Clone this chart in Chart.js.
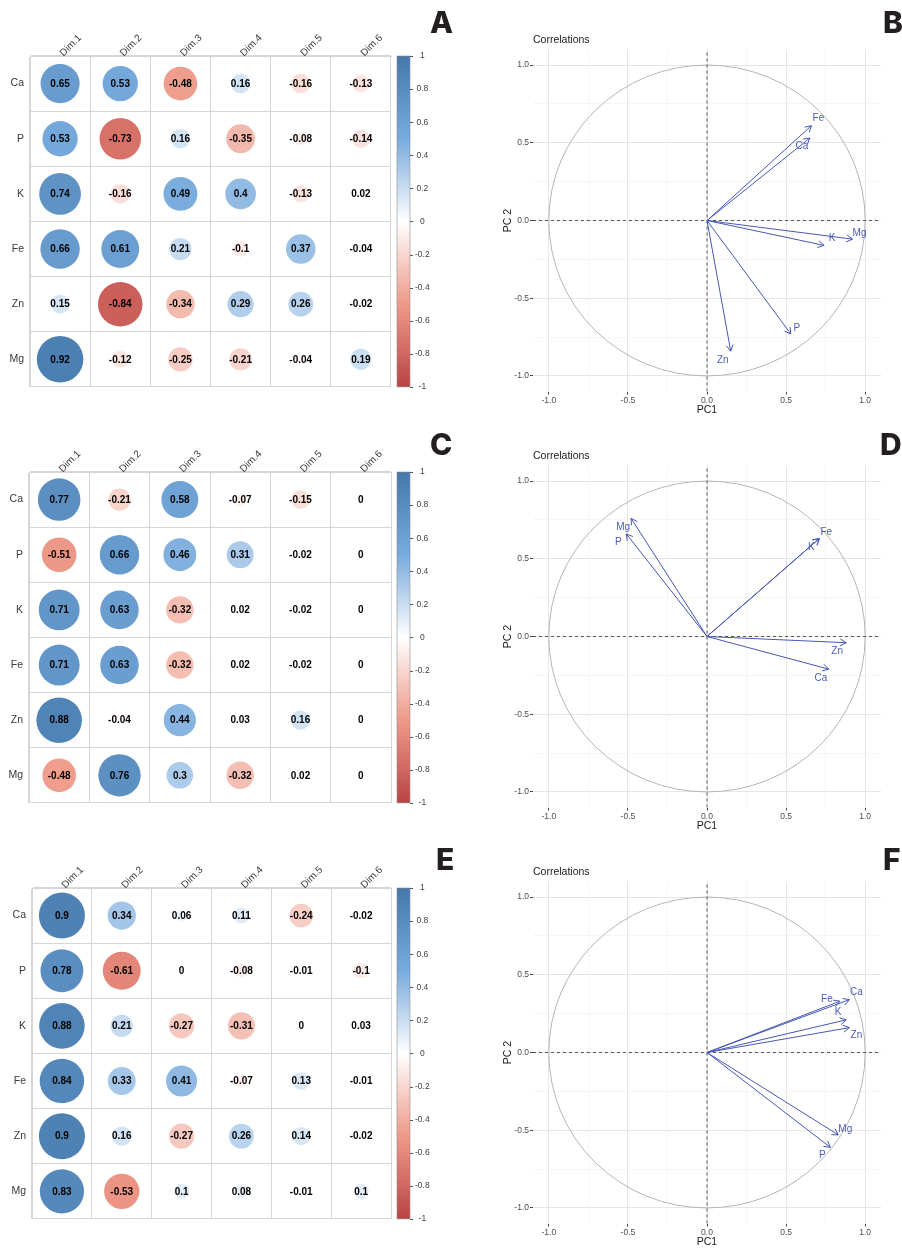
<!DOCTYPE html>
<html>
<head>
<meta charset="utf-8">
<title>Mineral correlations with PCA dimensions</title>
<script src="https://cdn.jsdelivr.net/npm/chart.js"></script>
<style>
  body { margin: 0; background: #fff; }
  #page { position: relative; width: 902px; height: 1248px; overflow: hidden; background: #fff; }
  canvas { position: absolute; }
</style>
</head>
<body>
<div id="page">
  <canvas id="corrA" width="470" height="416" style="left:0;top:0"></canvas>
  <canvas id="pcaB" width="432" height="416" style="left:470px;top:0"></canvas>
  <canvas id="corrC" width="470" height="416" style="left:0;top:416px"></canvas>
  <canvas id="pcaD" width="432" height="416" style="left:470px;top:416px"></canvas>
  <canvas id="corrE" width="470" height="416" style="left:0;top:832px"></canvas>
  <canvas id="pcaF" width="432" height="416" style="left:470px;top:832px"></canvas>
</div>

<script>
// ---- data ----
const vars = ['Ca', 'P', 'K', 'Fe', 'Zn', 'Mg'];
const dims = ['Dim.1', 'Dim.2', 'Dim.3', 'Dim.4', 'Dim.5', 'Dim.6'];

// correlation of each variable (rows) with each dimension (columns)
const corrA = [
  [0.65, 0.53, -0.48, 0.16, -0.16, -0.13],
  [0.53, -0.73, 0.16, -0.35, -0.08, -0.14],
  [0.74, -0.16, 0.49, 0.4, -0.13, 0.02],
  [0.66, 0.61, 0.21, -0.1, 0.37, -0.04],
  [0.15, -0.84, -0.34, 0.29, 0.26, -0.02],
  [0.92, -0.12, -0.25, -0.21, -0.04, 0.19]
];
const corrC = [
  [0.77, -0.21, 0.58, -0.07, -0.15, 0],
  [-0.51, 0.66, 0.46, 0.31, -0.02, 0],
  [0.71, 0.63, -0.32, 0.02, -0.02, 0],
  [0.71, 0.63, -0.32, 0.02, -0.02, 0],
  [0.88, -0.04, 0.44, 0.03, 0.16, 0],
  [-0.48, 0.76, 0.3, -0.32, 0.02, 0]
];
const corrE = [
  [0.9, 0.34, 0.06, 0.11, -0.24, -0.02],
  [0.78, -0.61, 0, -0.08, -0.01, -0.1],
  [0.88, 0.21, -0.27, -0.31, 0, 0.03],
  [0.84, 0.33, 0.41, -0.07, 0.13, -0.01],
  [0.9, 0.16, -0.27, 0.26, 0.14, -0.02],
  [0.83, -0.53, 0.1, 0.08, -0.01, 0.1]
];

const colorbarRange = [-1, 1];
const colorbarStep = 0.2;
const pcLimits = [-1.1, 1.1];
const pcStep = 0.25;

// label nudges (px) for the arrow labels in the circle plots
const nudgeB = { Ca: [-8, 8], P: [6, -6], K: [8, -7], Fe: [7, -7], Zn: [-8, 9], Mg: [7, -6] };
const nudgeD = { Ca: [-8, 9], P: [-8, 8], K: [-8, 9], Fe: [7, -6], Zn: [-9, 9], Mg: [-8, 9] };
const nudgeF = { Ca: [7, -7], P: [-8, 8], K: [-8, -8], Fe: [-13, -2], Zn: [7, 8], Mg: [7, -6] };

// ---- styling ----
const FONT = '"Liberation Sans", Arial, sans-serif';
const paletteAt = [-1, -0.5, 0, 0.5, 1];
const paletteHex = ['#BB4444', '#EE9988', '#FFFFFF', '#77AADD', '#4477AA'];
const arrowColor = '#4657b6';
const arrowText = '#4a5cbf';

function hexRgb(h) {
  return [parseInt(h.substr(1, 2), 16), parseInt(h.substr(3, 2), 16), parseInt(h.substr(5, 2), 16)];
}
function corrColor(v) {
  for (let i = 0; i < paletteAt.length - 1; i++) {
    if (v <= paletteAt[i + 1]) {
      const t = (v - paletteAt[i]) / (paletteAt[i + 1] - paletteAt[i]);
      const a = hexRgb(paletteHex[i]), b = hexRgb(paletteHex[i + 1]);
      const c = a.map((x, k) => Math.round(x + (b[k] - x) * t));
      return 'rgb(' + c.join(',') + ')';
    }
  }
  return paletteHex[paletteHex.length - 1];
}

function drawLetter(ctx, letter, x, y) {
  ctx.save();
  ctx.font = '800 30px Inter, "Liberation Sans", sans-serif';
  ctx.fillStyle = '#231f20';
  ctx.textAlign = 'left';
  ctx.textBaseline = 'alphabetic';
  ctx.fillText(letter, x, y);
  ctx.restore();
}

// ---- corrplot panels ----
function corrExtras(matrix, letter, lx, ly) {
  return {
    id: 'corrExtras',
    afterDatasetsDraw(chart) {
      const { ctx, scales: { x, y } } = chart;
      ctx.save();
      ctx.font = 'bold 10px ' + FONT;
      ctx.fillStyle = '#000';
      ctx.textAlign = 'center';
      ctx.textBaseline = 'middle';
      matrix.forEach((row, i) => row.forEach((v, j) => {
        ctx.fillText(String(v), x.getPixelForValue(j), y.getPixelForValue(i) + 0.5);
      }));
      ctx.restore();
    },
    afterDraw(chart) {
      const { ctx, chartArea, scales: { cb } } = chart;
      const x0 = chartArea.right + 6, w = 13;
      const top = cb.getPixelForValue(colorbarRange[1]);
      const bot = cb.getPixelForValue(colorbarRange[0]);
      const g = ctx.createLinearGradient(0, bot, 0, top);
      paletteAt.forEach((v, i) => g.addColorStop((v + 1) / 2, paletteHex[i]));
      ctx.save();
      ctx.fillStyle = g;
      ctx.fillRect(x0, top, w, bot - top);
      ctx.strokeStyle = '#8c8c8c';
      ctx.lineWidth = 0.6;
      ctx.strokeRect(x0, top, w, bot - top);
      ctx.strokeStyle = '#555';
      ctx.lineWidth = 1;
      cb.ticks.forEach(t => {
        const py = Math.round(cb.getPixelForValue(t.value)) + 0.5;
        ctx.beginPath();
        ctx.moveTo(x0 + w, py);
        ctx.lineTo(x0 + w + 3, py);
        ctx.stroke();
      });
      ctx.restore();
      drawLetter(ctx, letter, lx, ly);
    }
  };
}

function corrChart(id, matrix, leftW, letter, lx, ly) {
  const points = [];
  matrix.forEach((row, i) => row.forEach((v, j) => points.push({ x: dims[j], y: vars[i], v: v })));
  const cellR = (chart, v) => {
    const xs = chart.scales.x, ys = chart.scales.y;
    const cw = Math.abs(xs.getPixelForValue(1) - xs.getPixelForValue(0));
    const ch = Math.abs(ys.getPixelForValue(1) - ys.getPixelForValue(0));
    return 0.44 * Math.min(cw, ch) * Math.sqrt(Math.abs(v));
  };
  return new Chart(document.getElementById(id), {
    type: 'scatter',
    data: {
      datasets: [{
        data: points,
        pointRadius: c => (c.raw ? cellR(c.chart, c.raw.v) : 0),
        pointHoverRadius: c => (c.raw ? cellR(c.chart, c.raw.v) : 0),
        pointBackgroundColor: c => (c.raw ? corrColor(c.raw.v) : '#fff'),
        pointBorderWidth: 0,
        pointBorderColor: 'rgba(0,0,0,0)'
      }]
    },
    options: {
      responsive: false,
      animation: false,
      events: [],
      layout: { padding: { top: 0, bottom: 3, left: 0, right: 0 } },
      plugins: { legend: { display: false }, tooltip: { enabled: false } },
      scales: {
        x: {
          type: 'category', labels: dims, position: 'top', offset: true,
          grid: { offset: true, color: '#d6d6d6', drawTicks: false },
          border: { color: '#d6d6d6' },
          ticks: { minRotation: 45, maxRotation: 45, autoSkip: false, padding: -3, labelOffset: 10,
                   font: { family: FONT, size: 10 }, color: '#3a3a3a' },
          afterFit: s => { s.height = 56; }
        },
        y: {
          type: 'category', labels: vars, offset: true,
          grid: { offset: true, color: '#d6d6d6', drawTicks: false },
          border: { color: '#d6d6d6' },
          ticks: { padding: 6, autoSkip: false, font: { family: FONT, size: 10.5 }, color: '#3a3a3a' },
          afterFit: s => { s.width = leftW; }
        },
        cb: {
          type: 'linear', position: 'right', min: colorbarRange[0], max: colorbarRange[1],
          grid: { display: false, drawTicks: false },
          border: { display: false },
          ticks: { stepSize: colorbarStep, crossAlign: 'center', padding: 24, autoSkip: false,
                   font: { family: FONT, size: 8.5 }, color: '#404040',
                   callback: v => String(Math.round(v * 10) / 10) },
          afterFit: s => { s.width = 79; }
        }
      }
    },
    plugins: [corrExtras(matrix, letter, lx, ly)]
  });
}

// ---- correlation circle panels ----
const isMajor = v => Math.abs(v * 2 - Math.round(v * 2)) < 1e-6;
const keepGrid = s => {
  s.ticks = s.ticks.filter(t => Math.abs(t.value) <= 1.0001 &&
    Math.abs(t.value / pcStep - Math.round(t.value / pcStep)) < 1e-6);
};
function pcAxis(extra) {
  return Object.assign({
    type: 'linear', min: pcLimits[0], max: pcLimits[1],
    afterBuildTicks: keepGrid,
    ticks: { stepSize: pcStep, includeBounds: false, autoSkip: false, padding: 1,
             font: { family: FONT, size: 8.5 }, color: '#4d4d4d',
             callback: v => (isMajor(v) ? v.toFixed(1) : '') },
    grid: {
      color: c => (c.tick && isMajor(c.tick.value) ? '#e6e6e6' : '#f1f1f1'),
      lineWidth: c => (c.tick && isMajor(c.tick.value) ? 1 : 0.7),
      tickLength: 3,
      tickColor: c => (c.tick && isMajor(c.tick.value) ? '#444' : 'rgba(0,0,0,0)'),
      tickWidth: 1
    },
    border: { display: false }
  }, extra);
}

function pcaExtras(matrix, nudges, letter, lx, ly) {
  return {
    id: 'pcaExtras',
    beforeDatasetsDraw(chart) {
      const { ctx, scales: { x, y } } = chart;
      const cx = x.getPixelForValue(0), cy = y.getPixelForValue(0);
      const rx = x.getPixelForValue(1) - cx, ry = cy - y.getPixelForValue(1);
      ctx.save();
      ctx.strokeStyle = '#b5b5b5';
      ctx.lineWidth = 1;
      ctx.beginPath();
      ctx.ellipse(cx, cy, rx, ry, 0, 0, Math.PI * 2);
      ctx.stroke();
      ctx.restore();
    },
    afterDatasetsDraw(chart) {
      const { ctx, scales: { x, y } } = chart;
      const ox = x.getPixelForValue(0), oy = y.getPixelForValue(0);
      ctx.save();
      ctx.strokeStyle = arrowColor;
      ctx.lineWidth = 1;
      vars.forEach((name, i) => {
        const px = x.getPixelForValue(matrix[i][0]), py = y.getPixelForValue(matrix[i][1]);
        const a = Math.atan2(py - oy, px - ox);
        const len = 7, spread = Math.PI / 6;
        ctx.beginPath();
        ctx.moveTo(px - len * Math.cos(a - spread), py - len * Math.sin(a - spread));
        ctx.lineTo(px, py);
        ctx.lineTo(px - len * Math.cos(a + spread), py - len * Math.sin(a + spread));
        ctx.stroke();
      });
      ctx.font = '10px ' + FONT;
      ctx.fillStyle = arrowText;
      ctx.textAlign = 'center';
      ctx.textBaseline = 'middle';
      vars.forEach((name, i) => {
        const px = x.getPixelForValue(matrix[i][0]), py = y.getPixelForValue(matrix[i][1]);
        const n = nudges[name];
        ctx.fillText(name, px + n[0], py + n[1]);
      });
      ctx.restore();
    },
    afterDraw(chart) {
      const { ctx, chartArea } = chart;
      ctx.save();
      ctx.font = '10.5px ' + FONT;
      ctx.fillStyle = '#1a1a1a';
      ctx.textAlign = 'left';
      ctx.textBaseline = 'middle';
      ctx.fillText('Correlations', chartArea.left, 40);
      ctx.restore();
      drawLetter(ctx, letter, lx, ly);
    }
  };
}

function pcaChart(id, matrix, nudges, letter, lx, ly) {
  const refLine = pts => ({
    data: pts, showLine: true, pointRadius: 0, borderColor: '#555', borderWidth: 1,
    borderDash: [3, 3], order: 3
  });
  const datasets = [
    refLine([{ x: pcLimits[0], y: 0 }, { x: pcLimits[1], y: 0 }]),
    refLine([{ x: 0, y: pcLimits[0] }, { x: 0, y: pcLimits[1] }])
  ];
  vars.forEach((name, i) => {
    datasets.push({
      label: name,
      data: [{ x: 0, y: 0 }, { x: matrix[i][0], y: matrix[i][1] }],
      showLine: true, pointRadius: 0, borderColor: arrowColor, borderWidth: 1, order: 1
    });
  });
  return new Chart(document.getElementById(id), {
    type: 'scatter',
    data: { datasets: datasets },
    options: {
      responsive: false,
      animation: false,
      events: [],
      layout: { padding: { top: 49.5, right: 21, bottom: 0, left: 0 } },
      plugins: { legend: { display: false }, tooltip: { enabled: false } },
      scales: {
        x: pcAxis({
          title: { display: true, text: 'PC1', font: { family: FONT, size: 10.5 }, color: '#1a1a1a',
                   padding: { top: 0, bottom: 0 } },
          afterFit: s => { s.height = 24.5; }
        }),
        y: pcAxis({
          title: { display: true, text: 'PC 2', font: { family: FONT, size: 10.5 }, color: '#1a1a1a',
                   padding: { top: 32, bottom: 0 } },
          afterFit: s => { s.width = 63; }
        })
      }
    },
    plugins: [pcaExtras(matrix, nudges, letter, lx, ly)]
  });
}

corrChart('corrA', corrA, 30, 'A', 430, 33);
corrChart('corrC', corrC, 29, 'C', 430, 39);
corrChart('corrE', corrE, 32, 'E', 436, 38);
pcaChart('pcaB', corrA, nudgeB, 'B', 413, 33);
pcaChart('pcaD', corrC, nudgeD, 'D', 410, 39);
pcaChart('pcaF', corrE, nudgeF, 'F', 413, 38);
</script>
</body>
</html>
